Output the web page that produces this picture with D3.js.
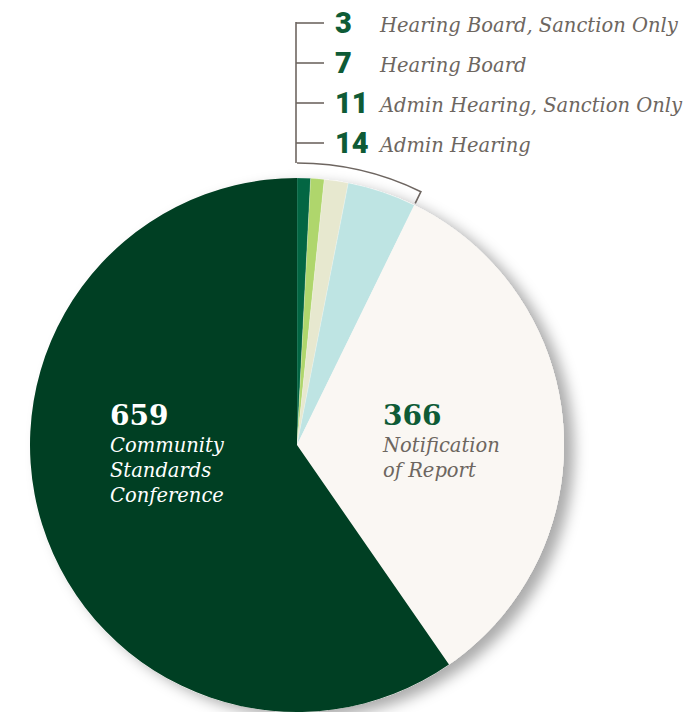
<!DOCTYPE html>
<html>
<head>
<meta charset="utf-8">
<script src="https://cdn.jsdelivr.net/npm/d3@7/dist/d3.min.js"></script>
<style>
  html, body { margin: 0; padding: 0; background: #ffffff; }
  svg { display: block; }
</style>
</head>
<body>
<svg id="chart" width="696" height="712"></svg>
<script>
// ---- Data ----
const categories = [
  "Hearing Board, Sanction Only",
  "Hearing Board",
  "Admin Hearing, Sanction Only",
  "Admin Hearing",
  "Notification of Report",
  "Community Standards Conference"
];
const values = [3, 7, 11, 14, 366, 659];
// The original enlarges the four tiny slices so they stay visible;
// these are the arc weights (big slices = true values).
const sliceWeights = [9, 9, 16, 46, 366, 659];
const sliceColors = ["#036643", "#afd66c", "#e7e8cf", "#bee4e3", "#faf7f3", "#003f23"];
const smallCount = 4;

// ---- Layout ----
const svg = d3.select("#chart");
const cx = 297, cy = 445, R = 267;
const lineColor = "#6e6661";
const numGreen = "#0e5b36";
const italicGray = "#6d6660";

const defs = svg.append("defs");
const f = defs.append("filter").attr("id", "shadow")
  .attr("x", "-20%").attr("y", "-20%").attr("width", "150%").attr("height", "150%");
f.append("feDropShadow").attr("dx", 10).attr("dy", 6).attr("stdDeviation", 7)
  .attr("flood-color", "#000").attr("flood-opacity", 0.33);

const data = categories.map((c, i) => ({ cat: c, value: values[i], weight: sliceWeights[i], color: sliceColors[i] }));
const pie = d3.pie().sort(null).value(d => d.weight).startAngle(0).endAngle(2 * Math.PI);
const arcs = pie(data);
const arc = d3.arc().innerRadius(0).outerRadius(R);

const g = svg.append("g").attr("transform", `translate(${cx},${cy})`);
// shadow base
g.append("circle").attr("r", R).attr("fill", "#faf7f3").attr("filter", "url(#shadow)");
g.selectAll("path.slice").data(arcs).join("path")
  .attr("class", "slice")
  .attr("d", arc)
  .attr("fill", d => d.data.color)
  .attr("stroke", (d, i) => i < smallCount ? "rgba(255,255,255,0.35)" : "none")
  .attr("stroke-width", 0.6);

// ---- Bracket over the small slices ----
const bracketAngle = arcs[smallCount - 1].endAngle;
const bracketR = 282, bracketInner = 269;
const bp = d3.path();
bp.moveTo(0, -bracketR);
bp.arc(0, 0, bracketR, -Math.PI / 2, bracketAngle - Math.PI / 2, false);
bp.lineTo(Math.sin(bracketAngle) * bracketInner, -Math.cos(bracketAngle) * bracketInner);
g.append("path").attr("d", bp.toString())
  .attr("fill", "none").attr("stroke", lineColor).attr("stroke-width", 1.6);

// ---- Callout labels for the small slices ----
const small = data.slice(0, smallCount);
const yBase = d3.scalePoint().domain(small.map(d => d.cat)).range([33, 153]);
const lineX = cx - 1;
svg.append("line")
  .attr("x1", lineX).attr("x2", lineX)
  .attr("y1", yBase(small[0].cat) - 11).attr("y2", cy - bracketR)
  .attr("stroke", lineColor).attr("stroke-width", 1.6);

const rows = svg.selectAll("g.row").data(small).join("g").attr("class", "row")
  .attr("transform", d => `translate(0,${yBase(d.cat)})`);
rows.append("line")
  .attr("x1", lineX).attr("x2", lineX + 28)
  .attr("y1", -10).attr("y2", -10)
  .attr("stroke", lineColor).attr("stroke-width", 1.6);
rows.append("text")
  .attr("x", 335).attr("y", 0)
  .attr("font-family", "Roboto, 'Liberation Sans', sans-serif")
  .attr("font-weight", 900).attr("font-size", 29)
  .attr("fill", numGreen)
  .text(d => d.value);
rows.append("text")
  .attr("x", 380).attr("y", -1)
  .attr("font-family", "'DejaVu Serif', serif")
  .attr("font-style", "italic").attr("font-size", 19.5)
  .attr("fill", italicGray)
  .text(d => d.cat);

// ---- In-slice labels ----
function bigLabel(d, x, y, numColor, txtColor, lines) {
  const t = svg.append("g").attr("transform", `translate(${x},${y})`);
  t.append("text").attr("x", 0).attr("y", 0)
    .attr("font-family", "'DejaVu Serif', serif").attr("font-weight", "bold")
    .attr("font-size", 28).attr("fill", numColor).text(d.value);
  lines.forEach((ln, i) => {
    t.append("text").attr("x", 0).attr("y", 27 + i * 25)
      .attr("font-family", "'DejaVu Serif', serif").attr("font-style", "italic")
      .attr("font-size", 19.5).attr("fill", txtColor).text(ln);
  });
}
bigLabel(data[5], cx - 187, cy - 20, "#ffffff", "#ffffff", ["Community", "Standards", "Conference"]);
bigLabel(data[4], cx + 86, cy - 20, numGreen, italicGray, ["Notification", "of Report"]);
</script>
</body>
</html>
